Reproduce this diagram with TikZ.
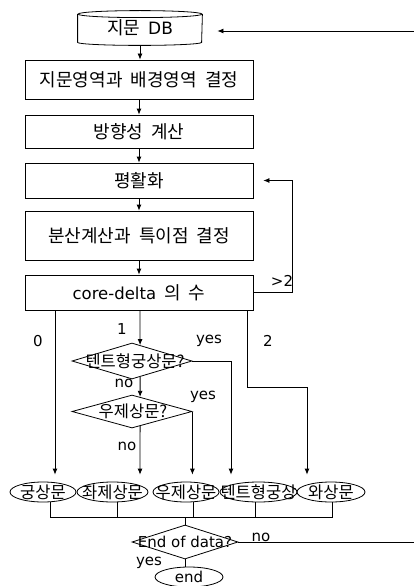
\documentclass[tikz,border=0pt]{standalone}
\usepackage{fontspec}
\setmainfont{DejaVu Sans}
\newfontfamily\kr[WordSpace=2.0]{Noto Sans CJK KR}
\usetikzlibrary{shapes.geometric,arrows.meta}
\begin{document}
\begin{tikzpicture}[x=1pt,y=-1pt,line width=0.8pt,
  boxtxt/.style={font=\kr\fontsize{18}{21}\selectfont},
  box/.style={draw,rectangle,minimum width=228pt,inner sep=0pt,boxtxt},
  kt/.style={font=\kr\fontsize{16.5}{19}\selectfont,inner sep=0pt},
  lt/.style={font=\fontsize{15}{18}\selectfont,inner sep=0pt},
  dia/.style={draw,diamond,inner sep=0pt,minimum width=120pt},
  ell/.style={draw,ellipse,inner sep=0pt,minimum height=20pt},
  arr/.style={-{Latex[length=6pt,width=5pt]}},
]
\path[fill=white,use as bounding box] (0,0) rectangle (413,586);

% database
\node[inner sep=0pt,minimum width=124pt,minimum height=34pt,boxtxt] (db) at (140,28) {지문 {\rmfamily\fontsize{17}{20}\selectfont DB}};
\draw ([yshift=-3.5pt]db.north west) -- ([yshift=3pt]db.south west)
  arc[start angle=180,end angle=360,x radius=62pt,y radius=3pt]
  -- ([yshift=-3.5pt]db.north east);
\draw ([yshift=-3.5pt]db.north) ellipse[x radius=62pt,y radius=3.5pt];

% process boxes
\node[box,minimum height=39pt] (b1) at (139,79.5) {지문영역과 배경영역 결정};
\node[box,minimum height=33pt] (b2) at (139,131.5) {방향성 계산};
\node[box,minimum height=35pt] (b3) at (139,180.5) {평활화};
\node[box,minimum height=49pt] (b4) at (139,235.5) {분산계산과 특이점 결정};
\node[box,minimum height=35pt] (b5) at (139,292.5) {{\rmfamily\fontsize{16.5}{20}\selectfont core-delta} 의 수};

% decisions
\node[dia,minimum height=36pt,label={[kt,xshift=3pt]center:텐트형궁상문?}] (d1) at (132,361) {};
\node[dia,minimum height=33pt,label={[kt,xshift=1pt]center:우제상문?}] (d2) at (132,411.5) {};

% classes
\node[ell,minimum width=66pt,label={[kt]center:궁상문}] (e1) at (43,492) {};
\node[ell,minimum width=71pt,label={[kt]center:좌제상문}] (e2) at (112.5,492) {};
\node[ell,minimum width=66pt,label={[kt]center:우제상문}] (e3) at (186,492) {};
\node[ell,minimum width=77pt,label={[kt]center:텐트형궁상}] (e4) at (258.5,492) {};
\node[ell,minimum width=68pt,label={[kt]center:와상문}] (e5) at (331,492) {};

% end of data
\node[dia,minimum width=106pt,minimum height=34pt,label={[lt]center:End of data?}] (de) at (185,542) {};
\node[ell,minimum width=68pt,label={[lt]center:end}] (en) at (189,577) {};

% helper coordinates
\coordinate (col) at (140,0);
\coordinate (k0) at (55,0);
\coordinate (k4) at (231,0);
\coordinate (k2) at (247,387);
\coordinate (k5) at (307,387);
\coordinate (lp) at (292,0);
\coordinate (bus) at (185,517);
\coordinate (rt) at (416,31);
\coordinate (rr) at (416,0);

% main chain
\draw[arr] (db.south) -- (db.south |- b1.north);
\draw[arr] (b1.south) -- (b2.north);
\draw[arr] (b2.south) -- (b3.north);
\draw[arr] (b3.south) -- (b4.north);
\draw[arr] (b4.south) -- (b5.north);

% return from end of data
\draw[arr,shorten >=15pt] (rt) -- (rt -| db.east);
\draw (de.east) -- (de.east -| rr);

% loop >2
\draw[arr,shorten >=10pt] (b5.east) -- (b5.east -| lp) |- (b3.east);

% branches
\draw[arr,shorten >=7pt] (b5.south -| k0) -- (k0 |- e1.north);
\draw[arr] (b5.south -| col) -- (d1.63);
\draw[arr] (d1.-63) -- (d2.61);
\draw[arr,shorten >=7pt] (d2.-61) -- (col |- e2.north);
\draw[arr,shorten >=7pt] (d1.east) -- (d1.east -| k4) -- (k4 |- e4.north);
\draw[arr,shorten >=7pt] (d2.east) -- (d2.east |- e3.north);
\draw[arr,shorten >=7pt] (b5.south -| k2) -- (k2) -- (k5) -- (k5 |- e5.north);

% bus
\draw ([xshift=7pt]e1.south) |- (bus);
\draw ([xshift=4.5pt]e2.south) |- (bus);
\draw ([xshift=7pt]e3.south) |- (bus);
\draw ([xshift=-3.5pt]e4.south) |- (bus);
\draw ([xshift=1pt]e5.south) |- (bus);
\draw (bus) -- (de.north);
\draw (de.south) -- (de.south |- en.north);

% labels
\node[lt] (l0) at (38,341) {0};
\node[lt] (l1) at (122,329) {1};
\node[lt] (l2) at (268,341) {2};
\node[lt] (lg) at (282,281) {>2};
\node[lt] (ly1) at (209,341) {yes};
\node[lt] (ln1) at (124,383) {no};
\node[lt] (ly2) at (203,397) {yes};
\node[lt] (ln2) at (127,446) {no};
\node[lt] (ln3) at (261,537) {no};
\node[lt] (ly3) at (149,563) {yes};
\end{tikzpicture}
\end{document}
